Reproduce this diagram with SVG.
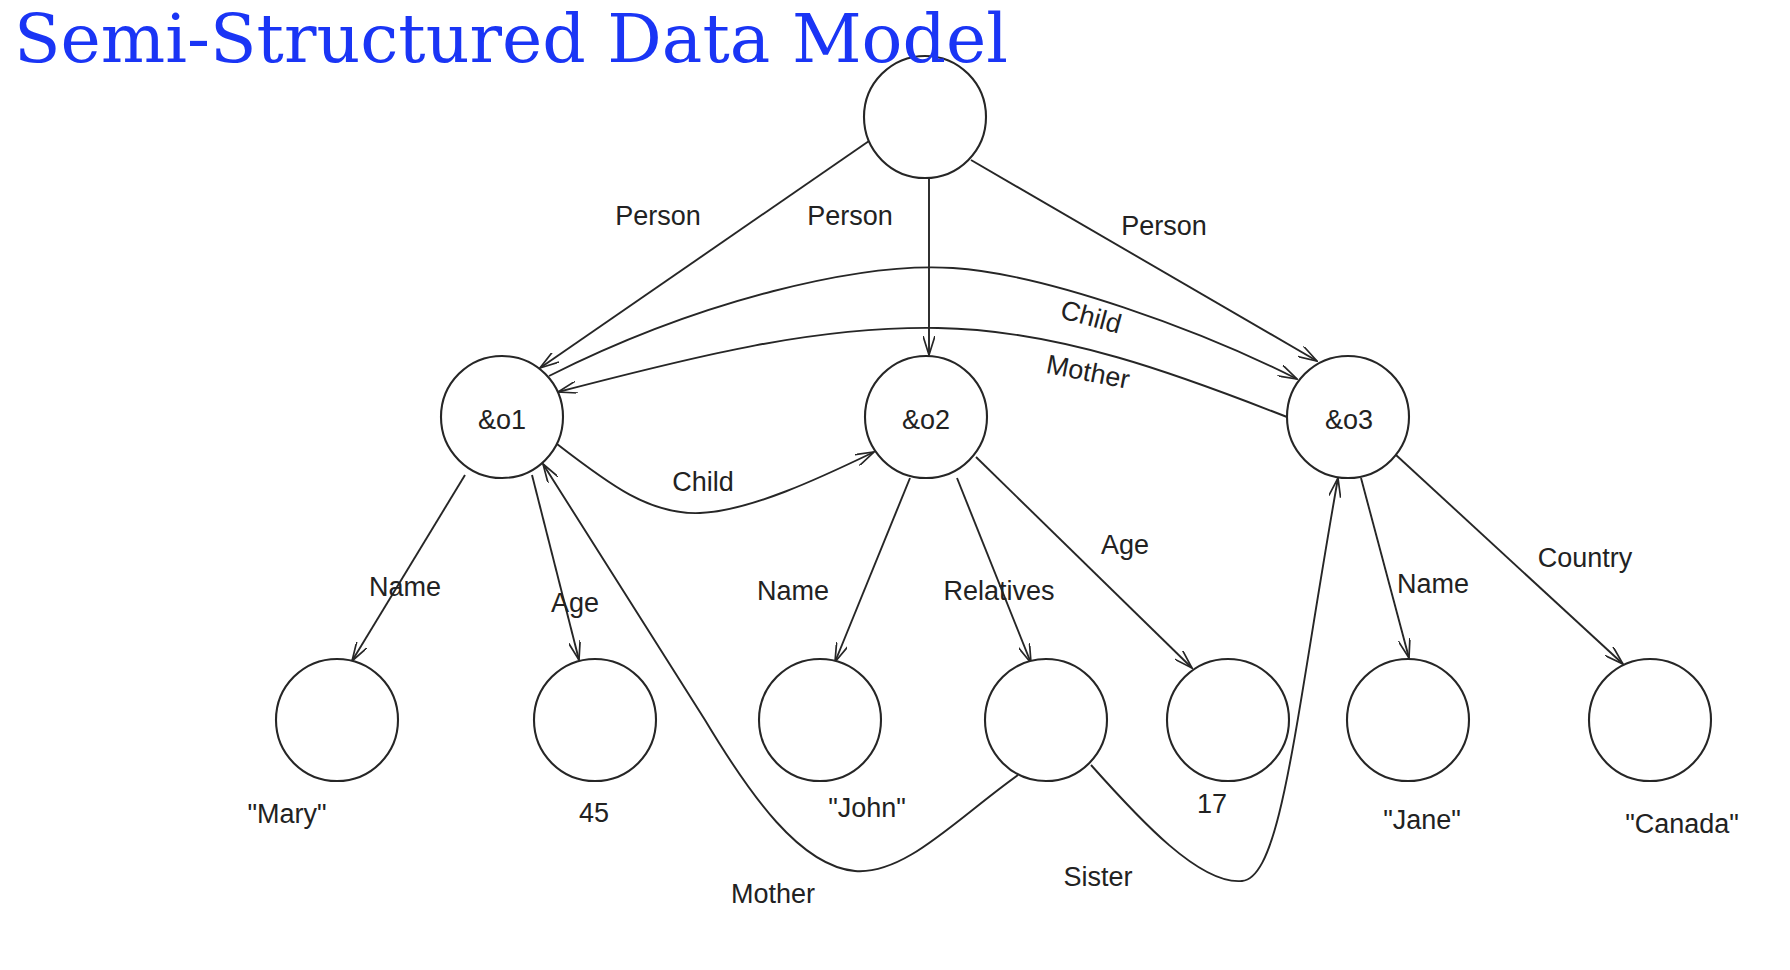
<svg xmlns="http://www.w3.org/2000/svg" width="1790" height="970" viewBox="0 0 1790 970">
<style>
.bg{fill:#ffffff}
.node{fill:#ffffff;stroke:#262626;stroke-width:2.1}
.edge{fill:none;stroke:#262626;stroke-width:1.9;marker-end:url(#arr)}
.t{font-family:"Liberation Sans",Arial,Helvetica,sans-serif;font-size:27px;fill:#222222;text-anchor:middle}
.title{font-family:"DejaVu Serif","Liberation Serif",serif;font-size:68px;fill:#1a35f5}
</style>
<defs>
<marker id="arr" viewBox="0 0 20 12" refX="19" refY="6" markerWidth="20" markerHeight="12" markerUnits="userSpaceOnUse" orient="auto">
<path d="M0,0 L19,6 L0,12" fill="none" stroke="#262626" stroke-width="1.7"/>
</marker>
</defs>
<rect class="bg" x="0" y="0" width="1790" height="970"/>

<g id="connectors">
<path class="edge" d="M869,141 L540,368"/>
<path class="edge" d="M929,178 L929,355"/>
<path class="edge" d="M971,160 L1317,361"/>
<path class="edge" d="M549,376 C700,300 860,262 953,268 C1046,274 1200,330 1297,379"/>
<path class="edge" d="M1287,417 C1180,375 1060,330 938,328 C816,326 700,355 558,392"/>
<path class="edge" d="M557,444 C610,485 650,515 700,513 C750,511 820,478 874,452"/>
<path class="edge" d="M465,475 L352,661"/>
<path class="edge" d="M532,475 L579,660"/>
<path class="edge" d="M910,478 L835,662"/>
<path class="edge" d="M957,478 L1031,663"/>
<path class="edge" d="M976,457 L1192,668"/>
<path class="edge" d="M1361,478 L1409,658"/>
<path class="edge" d="M1396,455 L1623,664"/>
<path class="edge" d="M1018,775 C955,820 905,875 855,871 C800,866 750,795 705,720 L543,464"/>
<path class="edge" d="M1091,765 C1140,820 1200,885 1242,881 C1282,877 1295,720 1338,478"/>
</g>

<g id="edge-labels">
<text class="t" x="658" y="225">Person</text>
<text class="t" x="850" y="225">Person</text>
<text class="t" x="1164" y="235">Person</text>
<text class="t" transform="translate(1091,317) rotate(15)" x="0" y="9">Child</text>
<text class="t" transform="translate(1088,372) rotate(11)" x="0" y="9">Mother</text>
<text class="t" x="703" y="491">Child</text>
<text class="t" x="405" y="596">Name</text>
<text class="t" x="575" y="612">Age</text>
<text class="t" x="793" y="600">Name</text>
<text class="t" x="999" y="600">Relatives</text>
<text class="t" x="1125" y="554">Age</text>
<text class="t" x="1433" y="593">Name</text>
<text class="t" x="1585" y="567">Country</text>
<text class="t" x="773" y="903">Mother</text>
<text class="t" x="1098" y="886">Sister</text>
</g>

<g id="root"><circle class="node" cx="925" cy="117" r="61"/></g>
<g id="o1"><circle class="node" cx="502" cy="417" r="61"/><text class="t" x="502" y="429">&amp;o1</text></g>
<g id="o2"><circle class="node" cx="926" cy="417" r="61"/><text class="t" x="926" y="429">&amp;o2</text></g>
<g id="o3"><circle class="node" cx="1348" cy="417" r="61"/><text class="t" x="1349" y="429">&amp;o3</text></g>
<g id="mary"><circle class="node" cx="337" cy="720" r="61"/><text class="t" x="287" y="823">"Mary"</text></g>
<g id="age45"><circle class="node" cx="595" cy="720" r="61"/><text class="t" x="594" y="822">45</text></g>
<g id="john"><circle class="node" cx="820" cy="720" r="61"/><text class="t" x="867" y="817">"John"</text></g>
<g id="relatives"><circle class="node" cx="1046" cy="720" r="61"/></g>
<g id="age17"><circle class="node" cx="1228" cy="720" r="61"/><text class="t" x="1212" y="813">17</text></g>
<g id="jane"><circle class="node" cx="1408" cy="720" r="61"/><text class="t" x="1422" y="829">"Jane"</text></g>
<g id="canada"><circle class="node" cx="1650" cy="720" r="61"/><text class="t" x="1682" y="833">"Canada"</text></g>

<g id="title"><text class="title" x="14" y="62">Semi-Structured Data Model</text></g>
</svg>
